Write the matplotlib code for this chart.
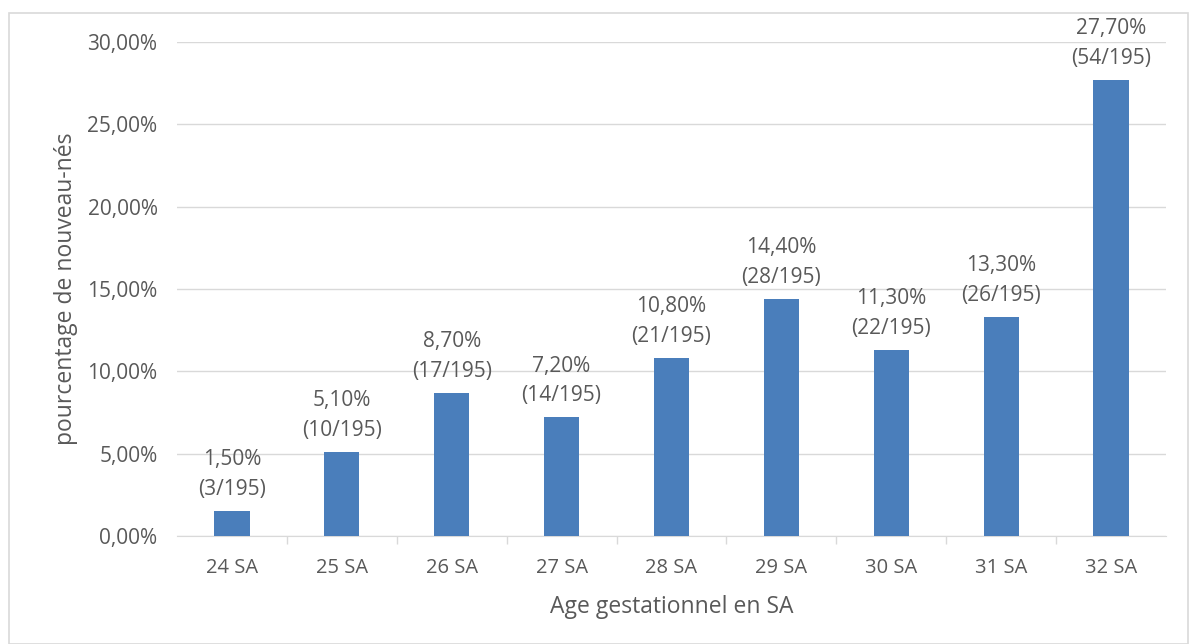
import numpy as np
import matplotlib.pyplot as plt
from matplotlib.patches import Rectangle
from matplotlib.ticker import FuncFormatter

categories = ["24 SA", "25 SA", "26 SA", "27 SA", "28 SA", "29 SA", "30 SA", "31 SA", "32 SA"]
values = [1.5, 5.1, 8.7, 7.2, 10.8, 14.4, 11.3, 13.3, 27.7]
counts = [3, 10, 17, 14, 21, 28, 22, 26, 54]
total = 195

plt.rcParams['font.family'] = ['Open Sans', 'DejaVu Sans']
grey = '#595959'

fig = plt.figure(figsize=(11.89, 6.44), dpi=100)
ax = fig.add_axes([177 / 1189, 1 - 536 / 644, (1166 - 177) / 1189, (536 - 42) / 644])

x = np.arange(len(categories))
ax.bar(x, values, width=0.32, color='#4a7ebb', zorder=3)

for xi, v, c in zip(x, values, counts):
    lab = f"{v:.2f}".replace('.', ',') + "%\n(" + f"{c}/{total})"
    ax.annotate(lab, (xi, v), xytext=(0, 8), textcoords='offset points',
                ha='center', va='bottom', fontsize=15, color=grey, linespacing=1.55)

ax.set_ylim(0, 30)
ax.set_xlim(-0.5, len(categories) - 0.5)
ax.set_yticks(np.arange(0, 31, 5))
ax.yaxis.set_major_formatter(FuncFormatter(lambda v, p: f"{v:.2f}".replace('.', ',') + "%"))
ax.set_xticks(x)
ax.set_xticklabels(categories)
ax.set_xticks(np.arange(0.5, len(categories) - 0.5, 1), minor=True)
ax.tick_params(axis='x', which='minor', length=6, color='#d9d9d9', width=1)
ax.tick_params(axis='x', which='major', length=0, pad=16, labelsize=14.5, labelcolor=grey)
ax.tick_params(axis='y', length=0, pad=14, labelsize=15, labelcolor=grey)
ax.grid(axis='y', color='#d9d9d9', linewidth=1, zorder=0)
for s in ['top', 'right', 'left']:
    ax.spines[s].set_visible(False)
ax.spines['bottom'].set_color('#d9d9d9')

ax.set_xlabel("Age gestationnel en SA", fontsize=16.5, color=grey, labelpad=12)
ax.set_ylabel("pourcentage de nouveau-nés", fontsize=16.5, color=grey, labelpad=7)

fig.patches.append(Rectangle((9 / 1189, 0.0), 1 - 9 / 1189 - 1 / 1189, 1 - 13 / 644,
                             transform=fig.transFigure, fill=False,
                             edgecolor='#d9d9d9', linewidth=1.2))

fig.savefig("out.png", dpi=100)
